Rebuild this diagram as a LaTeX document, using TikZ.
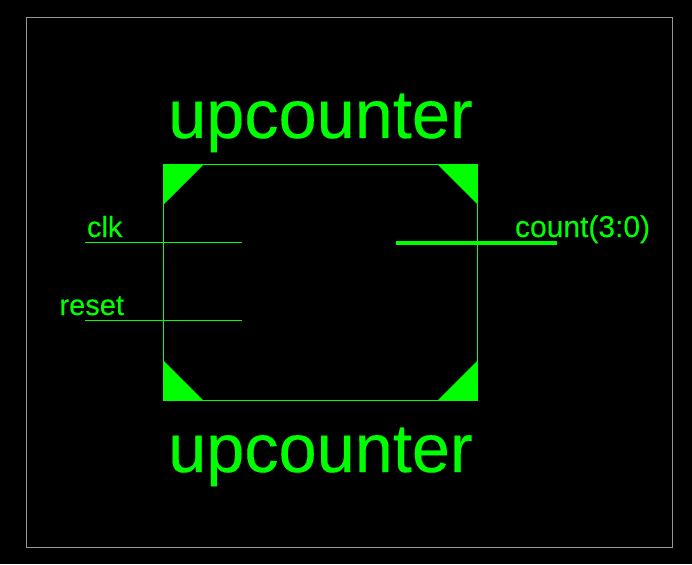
\documentclass[tikz,border=0pt]{standalone}
\usepackage{fontspec}
\setmainfont[FakeBold=0.25]{Liberation Sans}
\usetikzlibrary{positioning, calc}
\definecolor{symgreen}{RGB}{0,255,0}
\definecolor{framegray}{RGB}{150,150,150}

\begin{document}
\begin{tikzpicture}[x=1pt,y=-1pt,
    inner sep=0pt,outer sep=0pt,
    framebox/.style={draw=framegray,line width=1pt},
    symbox/.style={draw=symgreen,line width=1pt},
    pinwire/.style={draw=symgreen,line width=1pt},
    buswire/.style={draw=symgreen,line width=3.5pt},
    cornerfill/.style={fill=symgreen},
    pinlabel/.style={text=symgreen,anchor=base west,font=\fontsize{29}{29}\selectfont},
    buslabel/.style={text=symgreen,anchor=base west,font=\fontsize{30}{30}\selectfont},
    symlabel/.style={text=symgreen,anchor=base,font=\fontsize{68.5}{68.5}\selectfont}]
    \fill[black,use as bounding box] (0,0) rectangle (692,564);
    \path[framebox] (26.5,17.5) rectangle (672.5,547.5);

    \coordinate (NW) at (163.5,164.5);
    \coordinate (NE) at (477.5,164.5);
    \coordinate (SE) at (477.5,400.5);
    \coordinate (SW) at (163.5,400.5);
    \path[symbox] (NW) -- (NE) -- (SE) -- (SW) -- cycle;

    \fill[cornerfill] (NW) -- ++(40,0) -- ++(-40,40) -- cycle;
    \fill[cornerfill] (NE) -- ++(-40,0) -- ++(40,40) -- cycle;
    \fill[cornerfill] (SE) -- ++(-40,0) -- ++(40,-40) -- cycle;
    \fill[cornerfill] (SW) -- ++(40,0) -- ++(-40,-40) -- cycle;

    \node[symlabel] (nameT) at (320.5,138) {upcounter};
    \node[symlabel] (nameB) at (320.5,472) {upcounter};

    \coordinate (clkA) at (85,242.5);
    \coordinate (clkB) at (242,242.5);
    \coordinate (resetA) at (85,320.5);
    \coordinate (resetB) at (242,320.5);
    \coordinate (countA) at (396,243);
    \coordinate (countB) at (557,243);

    \path[pinwire] (clkA) -- (clkB);
    \path[pinwire] (resetA) -- (resetB);
    \path[buswire] (countA) -- (countB);

    \node[pinlabel] (clk) at (87,237) {clk};
    \node[pinlabel] (reset) at (59.5,315) {reset};
    \node[buslabel] (count) at (515,237) {count(3:0)};
\end{tikzpicture}
\end{document}
